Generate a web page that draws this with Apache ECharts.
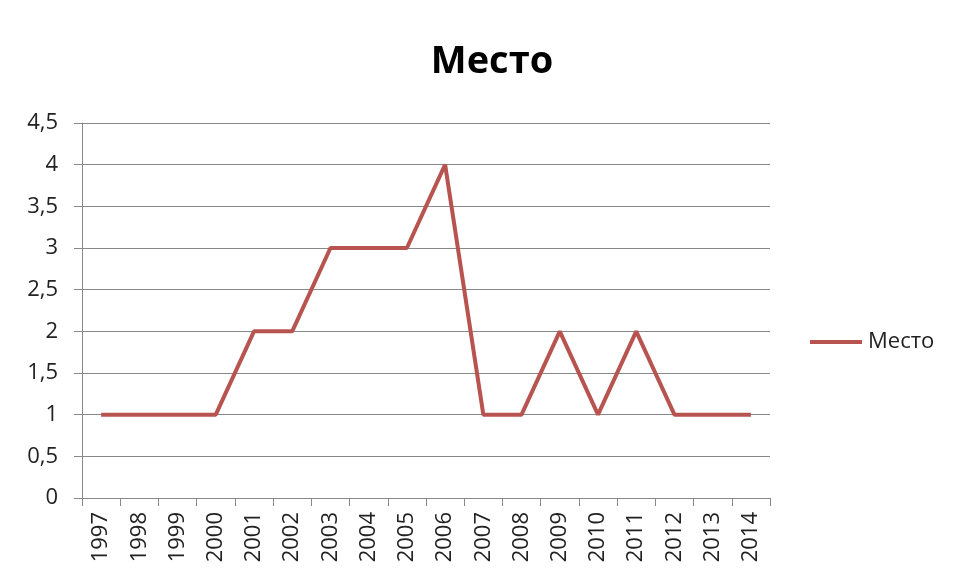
<!DOCTYPE html>
<html><head><meta charset="utf-8">
<script src="https://cdn.jsdelivr.net/npm/echarts@6/dist/echarts.min.js"></script>
<style>html,body{margin:0;padding:0;background:#fff}#c{width:954px;height:578px}</style>
</head><body><div id="c"></div>
<script>
const categories = ['1997','1998','1999','2000','2001','2002','2003','2004','2005','2006','2007','2008','2009','2010','2011','2012','2013','2014'];
const seriesName = 'Место';
const values = [1,1,1,1,2,2,3,3,3,4,1,1,2,1,2,1,1,1];
const yTicks = {min:0, max:4.5, interval:0.5};

const chart = echarts.init(document.getElementById('c'));
chart.setOption({
  animation:false,
  title:{text:'Место', left:487, top:38, textAlign:'center',
    textStyle:{fontFamily:'Open Sans', fontWeight:'bold', fontSize:38, color:'#000'}},
  legend:{left:805, top:326, orient:'vertical', itemWidth:52, itemHeight:4, itemGap:5,
    data:[{name:seriesName, icon:'rect'}],
    textStyle:{fontFamily:'Open Sans', fontSize:22, color:'#222', padding:[0,0,0,1]}},
  grid:{left:82, right:184, top:123, bottom:80},
  xAxis:{type:'category', data:categories, boundaryGap:true,
    axisLine:{lineStyle:{color:'#888', width:1}},
    axisTick:{show:true, length:8, alignWithLabel:false, lineStyle:{color:'#888'}},
    axisLabel:{rotate:90, fontFamily:'Open Sans', fontSize:22, color:'#222', margin:14, interval:0}},
  yAxis:{type:'value', min:yTicks.min, max:yTicks.max, interval:yTicks.interval,
    axisLine:{show:true, lineStyle:{color:'#888'}},
    axisTick:{show:true, length:8, lineStyle:{color:'#888'}},
    splitLine:{lineStyle:{color:'#888', width:1}},
    axisLabel:{fontFamily:'Open Sans', fontSize:22, color:'#222', margin:24,
      formatter:v=>String(v).replace('.',',')}},
  series:[{name:seriesName, type:'line', data:values, symbol:'none',
    lineStyle:{color:'#b85450', width:4}, itemStyle:{color:'#b85450'}}]
});
</script></body></html>
